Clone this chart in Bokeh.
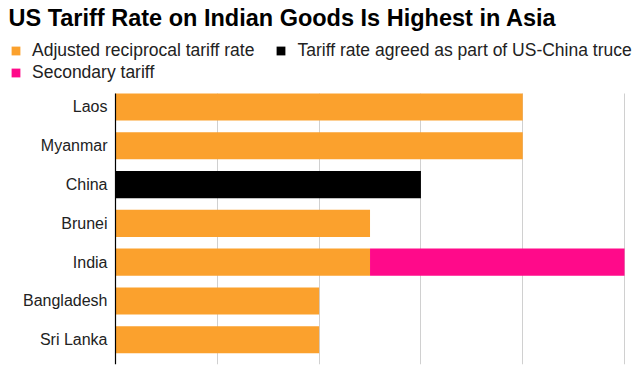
from bokeh.plotting import figure
from bokeh.models import Legend, LegendItem, FixedTicker, Range1d, Title, Grid
from bokeh.embed import file_html
from bokeh.resources import INLINE

countries = ["Laos", "Myanmar", "China", "Brunei", "India", "Bangladesh", "Sri Lanka"]
reciprocal = [40, 40, 0, 25, 25, 20, 20]
truce = [0, 0, 30, 0, 0, 0, 0]
secondary = [0, 0, 0, 0, 25, 0, 0]
grid_ticks = [10, 20, 30, 40, 50]
series_labels = ["Adjusted reciprocal tariff rate",
                 "Tariff rate agreed as part of US-China truce",
                 "Secondary tariff"]

ORANGE = "#FBA12D"
BLACK = "#000000"
PINK = "#FF0A8A"
COLORS = [ORANGE, BLACK, PINK]

n = len(countries)
ypos = [n - 1 - i for i in range(n)]
Y_LO, Y_HI = -0.637, 6.348   # extent of the bar area

p = figure(width=640, height=373, output_backend="svg", toolbar_location=None,
           x_range=Range1d(-11.297, 51.567), y_range=Range1d(Y_LO, 7.92),
           min_border_left=0, min_border_right=0, min_border_top=32,
           min_border_bottom=9, title=None)

data = dict(y=ypos, reciprocal=reciprocal, truce=truce, secondary=secondary)
rs = p.hbar_stack(["reciprocal", "truce", "secondary"], y="y", height=0.7,
                  color=COLORS, line_color=None, source=data)

title = Title(text="US Tariff Rate on Indian Goods Is Highest in Asia",
              text_font="Liberation Sans", text_font_style="bold",
              text_font_size="23.5px", text_color="#000000", align="left",
              offset=8, standoff=4)
p.add_layout(title, "above")

p.xaxis.visible = False
p.xgrid.ticker = FixedTicker(ticks=grid_ticks)
p.xgrid.grid_line_color = "#d0d0d0"
p.xgrid.grid_line_width = 1
if "cross_bounds" in Grid.properties():
    p.xgrid.cross_bounds = (Y_LO, Y_HI)
p.ygrid.visible = False

ax = p.yaxis[0]
ax.fixed_location = 0
ax.bounds = (Y_LO, Y_HI)
ax.ticker = FixedTicker(ticks=ypos)
ax.major_label_overrides = {y: c for y, c in zip(ypos, countries)}
ax.axis_line_color = "#000000"
ax.axis_line_width = 1.2
ax.major_tick_line_color = None
ax.minor_tick_line_color = None
ax.major_label_standoff = 2
ax.major_label_text_font = "Liberation Sans"
ax.major_label_text_font_size = "16px"
ax.major_label_text_color = "#222222"

p.outline_line_color = None

def mk_legend(items, loc):
    lg = Legend(items=items, location=loc, orientation="horizontal",
                glyph_width=11, glyph_height=11, label_standoff=11, spacing=21,
                padding=0, margin=0, border_line_color=None,
                background_fill_alpha=0, label_height=22,
                label_text_font="Liberation Sans", label_text_font_size="17.5px",
                label_text_color="#222222")
    p.add_layout(lg, "center")
    return lg

mk_legend([LegendItem(label=series_labels[0], renderers=[rs[0]]),
           LegendItem(label=series_labels[1], renderers=[rs[1]])], (10, 302.5))
mk_legend([LegendItem(label=series_labels[2], renderers=[rs[2]])], (10, 280.5))

open("out.html", "w").write(file_html(p, INLINE))
